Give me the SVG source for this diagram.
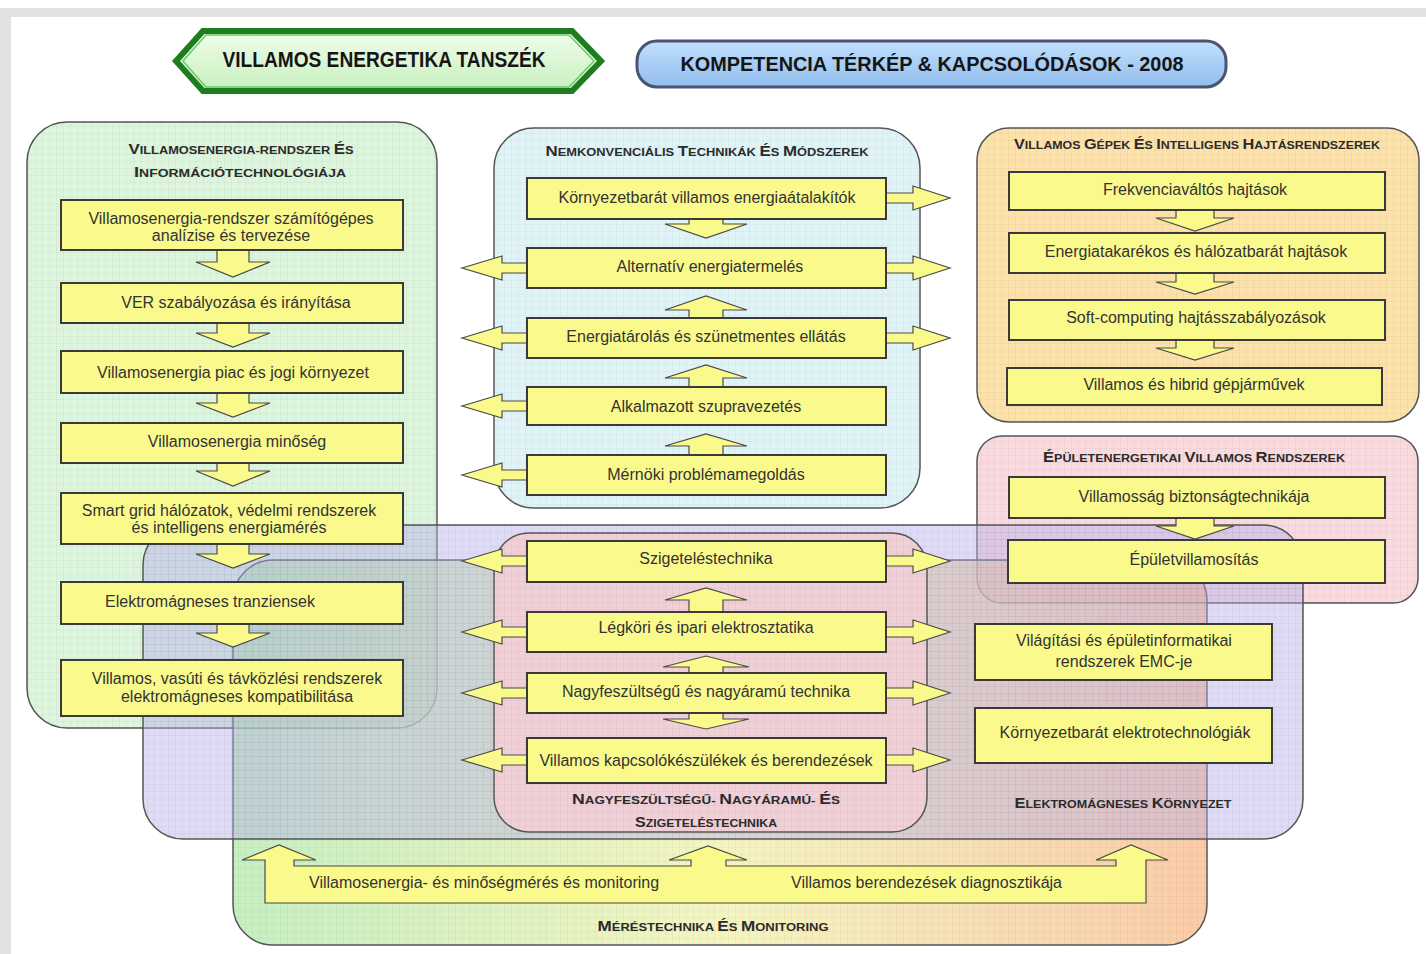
<svg xmlns="http://www.w3.org/2000/svg" width="1426" height="954" viewBox="0 0 1426 954">
<defs>
<style>
.box{fill:#fafa8c;stroke:#3a3a3a;stroke-width:2}
.arr{fill:#fafa8c;stroke:#4a4a4a;stroke-width:1.2;stroke-linejoin:miter}
.t{font-family:"Liberation Sans",Arial,sans-serif;font-size:16px;fill:#333;text-anchor:middle}
.ts{font-family:"Liberation Sans",Arial,sans-serif;font-size:16px;fill:#333;text-anchor:start}
.ttl{font-family:"Liberation Sans",Arial,sans-serif;font-weight:bold;font-size:11px;fill:#2b2b2b;text-anchor:middle}
.ttl .b{font-size:14.5px}
.panel{stroke:#555;stroke-width:1.5}
.grid{fill:url(#grid);stroke:none}
.hdr{font-family:"Liberation Sans",Arial,sans-serif;font-weight:bold;fill:#151515;text-anchor:middle}
</style>
<pattern id="grid" width="7" height="7" patternUnits="userSpaceOnUse">
<path d="M7 0H0V7" fill="none" stroke="#000" stroke-opacity="0.06" stroke-width="1"/>
</pattern>
<linearGradient id="mg" x1="0" y1="0" x2="1" y2="0">
<stop offset="0" stop-color="#a8e6a0"/>
<stop offset="0.5" stop-color="#eef0a0"/>
<stop offset="1" stop-color="#f8b078"/>
</linearGradient>
<linearGradient id="hg" x1="0" y1="0" x2="0" y2="1">
<stop offset="0" stop-color="#f0fdea"/>
<stop offset="1" stop-color="#c8f0c0"/>
</linearGradient>
<linearGradient id="bg" x1="0" y1="0" x2="0" y2="1">
<stop offset="0" stop-color="#c0e0ff"/>
<stop offset="1" stop-color="#92bdec"/>
</linearGradient>
</defs>

<rect x="0" y="0" width="1426" height="954" fill="#ffffff"/>
<rect x="0" y="8" width="1426" height="9" fill="#e2e2e2"/>
<rect x="0" y="8" width="11" height="946" fill="#e2e2e2"/>

<g id="header-tanszek">
<polygon points="176,61 203,31 572,31 601,61 572,91 203,91" fill="url(#hg)" stroke="#1e7d1e" stroke-width="6" stroke-linejoin="miter"/>
<polygon points="183,61 206,35 569,35 594,61 569,87 206,87" fill="none" stroke="#6cc86c" stroke-width="1.5"/>
<text class="hdr" x="384" y="67" font-size="22" textLength="323" lengthAdjust="spacingAndGlyphs">VILLAMOS ENERGETIKA TANSZÉK</text>
</g>

<g id="header-kompetencia">
<rect x="637" y="41" width="589" height="46" rx="20" fill="url(#bg)" stroke="#4a5470" stroke-width="3"/>
<text class="hdr" x="932" y="71" font-size="21" textLength="503" lengthAdjust="spacingAndGlyphs">KOMPETENCIA TÉRKÉP &amp; KAPCSOLÓDÁSOK - 2008</text>
</g>

<!-- Panels -->
<g id="panel-ver">
<rect class="panel" x="27" y="122" width="410" height="606" rx="40" fill="#dcf5dc"/>
<rect class="grid" x="27" y="122" width="410" height="606" rx="40"/>
<text class="ttl" x="241" y="154" textLength="225" lengthAdjust="spacingAndGlyphs"><tspan class="b">V</tspan>ILLAMOSENERGIA-RENDSZER <tspan class="b">É</tspan>S</text>
<text class="ttl" x="240" y="177" textLength="212" lengthAdjust="spacingAndGlyphs"><tspan class="b">I</tspan>NFORMÁCIÓTECHNOLÓGIÁJA</text>
</g>

<g id="panel-nemkonv">
<rect class="panel" x="494" y="128" width="426" height="380" rx="40" fill="#e0f4f8"/>
<rect class="grid" x="494" y="128" width="426" height="380" rx="40"/>
<text class="ttl" x="707" y="156" textLength="323" lengthAdjust="spacingAndGlyphs"><tspan class="b">N</tspan>EMKONVENCIÁLIS <tspan class="b">T</tspan>ECHNIKÁK <tspan class="b">É</tspan>S <tspan class="b">M</tspan>ÓDSZEREK</text>
</g>

<g id="panel-gepek">
<rect class="panel" x="977" y="128" width="442" height="294" rx="32" fill="#fce2aa"/>
<rect class="grid" x="977" y="128" width="442" height="294" rx="32"/>
<text class="ttl" x="1197" y="149" textLength="366" lengthAdjust="spacingAndGlyphs"><tspan class="b">V</tspan>ILLAMOS <tspan class="b">G</tspan>ÉPEK <tspan class="b">É</tspan>S <tspan class="b">I</tspan>NTELLIGENS <tspan class="b">H</tspan>AJTÁSRENDSZEREK</text>
</g>

<g id="panel-epulet">
<rect class="panel" x="977" y="436" width="441" height="167" rx="25" fill="#f9dade"/>
<rect class="grid" x="977" y="436" width="441" height="167" rx="25"/>
<text class="ttl" x="1194" y="462" textLength="302" lengthAdjust="spacingAndGlyphs"><tspan class="b">É</tspan>PÜLETENERGETIKAI <tspan class="b">V</tspan>ILLAMOS <tspan class="b">R</tspan>ENDSZEREK</text>
</g>

<g id="panel-meres">
<rect class="panel" x="233" y="560" width="974" height="385" rx="40" fill="url(#mg)" fill-opacity="0.65"/>
<rect class="grid" x="233" y="560" width="974" height="385" rx="40"/>
<text class="ttl" x="713" y="931" textLength="231" lengthAdjust="spacingAndGlyphs"><tspan class="b">M</tspan>ÉRÉSTECHNIKA <tspan class="b">É</tspan>S <tspan class="b">M</tspan>ONITORING</text>
</g>

<g id="panel-emk">
<rect class="panel" x="143" y="525" width="1160" height="314" rx="40" fill="#b8b0ec" fill-opacity="0.45"/>
<rect class="grid" x="143" y="525" width="1160" height="314" rx="40"/>
<text class="ttl" x="1123" y="808" textLength="217" lengthAdjust="spacingAndGlyphs"><tspan class="b">E</tspan>LEKTROMÁGNESES <tspan class="b">K</tspan>ÖRNYEZET</text>
</g>

<g id="panel-nagyfesz">
<rect class="panel" x="494" y="533" width="433" height="299" rx="35" fill="#f0d0d6"/>
<rect class="grid" x="494" y="533" width="433" height="299" rx="35"/>
<text class="ttl" x="706" y="804" textLength="268" lengthAdjust="spacingAndGlyphs"><tspan class="b">N</tspan>AGYFESZÜLTSÉGŰ- <tspan class="b">N</tspan>AGYÁRAMÚ- <tspan class="b">É</tspan>S</text>
<text class="ttl" x="706" y="827" textLength="142" lengthAdjust="spacingAndGlyphs"><tspan class="b">S</tspan>ZIGETELÉSTECHNIKA</text>
</g>

<!-- Connectors -->
<g id="connectors">
<polygon class="arr" points="217,250 249,250 249,262 270,262 233,277 196,262 217,262"/>
<polygon class="arr" points="217,323 249,323 249,333 270,333 233,347 196,333 217,333"/>
<polygon class="arr" points="217,393 249,393 249,403 270,403 233,417 196,403 217,403"/>
<polygon class="arr" points="217,463 249,463 249,471 270,471 233,486 196,471 217,471"/>
<polygon class="arr" points="217,544 249,544 249,554 270,554 233,568 196,554 217,554"/>
<polygon class="arr" points="217,624 249,624 249,633 270,633 233,647 196,633 217,633"/>
<polygon class="arr" points="689,219 723,219 723,224 747,224 706,238 665,224 689,224"/>
<polygon class="arr" points="689,318 723,318 723,310 747,310 706,296 665,310 689,310"/>
<polygon class="arr" points="689,387 723,387 723,378 747,378 706,365 665,378 689,378"/>
<polygon class="arr" points="689,455 723,455 723,446 747,446 706,434 665,446 689,446"/>
<polygon class="arr" points="886,193 913,193 913,186 950,198 913,210 913,203 886,203"/>
<polygon class="arr" points="462,268 502,256 502,263 527,263 527,273 502,273 502,280"/>
<polygon class="arr" points="886,263 913,263 913,256 950,268 913,280 913,273 886,273"/>
<polygon class="arr" points="462,338 502,326 502,333 527,333 527,343 502,343 502,350"/>
<polygon class="arr" points="886,333 913,333 913,326 950,338 913,350 913,343 886,343"/>
<polygon class="arr" points="462,406 502,394 502,401 527,401 527,411 502,411 502,418"/>
<polygon class="arr" points="462,475 502,463 502,470 527,470 527,480 502,480 502,487"/>
<polygon class="arr" points="689,612 723,612 723,600 747,600 706,588 665,600 689,600"/>
<polygon class="arr" points="689,673 723,673 723,667 749,667 706,656 663,667 689,667"/>
<polygon class="arr" points="689,713 723,713 723,719 749,719 706,729 663,719 689,719"/>
<polygon class="arr" points="462,561 502,549 502,556 527,556 527,566 502,566 502,573"/>
<polygon class="arr" points="886,556 913,556 913,549 950,561 913,573 913,566 886,566"/>
<polygon class="arr" points="462,632 502,620 502,627 527,627 527,637 502,637 502,644"/>
<polygon class="arr" points="886,627 913,627 913,620 950,632 913,644 913,637 886,637"/>
<polygon class="arr" points="462,693 502,681 502,688 527,688 527,698 502,698 502,705"/>
<polygon class="arr" points="886,688 913,688 913,681 950,693 913,705 913,698 886,698"/>
<polygon class="arr" points="462,760 502,748 502,755 527,755 527,765 502,765 502,772"/>
<polygon class="arr" points="886,755 913,755 913,748 950,760 913,772 913,765 886,765"/>
<polygon class="arr" points="1176,210 1214,210 1214,218 1234,218 1195,231 1156,218 1176,218"/>
<polygon class="arr" points="1176,273 1214,273 1214,282 1234,282 1195,294 1156,282 1176,282"/>
<polygon class="arr" points="1176,340 1214,340 1214,348 1234,348 1195,360 1156,348 1176,348"/>
<polygon class="arr" points="1176,518 1214,518 1214,526 1234,526 1195,539 1156,526 1176,526"/>
<polygon class="arr" points="265,903 265,860 242,860 279,845 316,860 294,860 294,866 691,866 691,860 669,860 708,846 747,860 726,860 726,866 1116,866 1116,860 1096,860 1131,845 1168,860 1146,860 1146,903"/>
</g>

<!-- Nodes: left column -->
<g id="n-ver1"><rect class="box" x="61" y="200" width="342" height="50"/><text class="t" x="231" y="224">Villamosenergia-rendszer számítógépes</text><text class="t" x="231" y="241">analízise és tervezése</text></g>
<g id="n-ver2"><rect class="box" x="61" y="283" width="342" height="40"/><text class="t" x="236" y="308">VER szabályozása és irányítása</text></g>
<g id="n-ver3"><rect class="box" x="61" y="351" width="342" height="42"/><text class="t" x="233" y="378">Villamosenergia piac és jogi környezet</text></g>
<g id="n-ver4"><rect class="box" x="61" y="423" width="342" height="40"/><text class="t" x="237" y="447">Villamosenergia minőség</text></g>
<g id="n-ver5"><rect class="box" x="61" y="493" width="342" height="51"/><text class="t" x="229" y="516">Smart grid hálózatok, védelmi rendszerek</text><text class="t" x="229" y="533">és intelligens energiamérés</text></g>
<g id="n-ver6"><rect class="box" x="61" y="582" width="342" height="42"/><text class="t" x="210" y="607">Elektromágneses tranziensek</text></g>
<g id="n-ver7"><rect class="box" x="61" y="660" width="342" height="56"/><text class="t" x="237" y="684">Villamos, vasúti és távközlési rendszerek</text><text class="t" x="237" y="702">elektromágneses kompatibilitása</text></g>

<!-- Nodes: middle top -->
<g id="n-nk1"><rect class="box" x="527" y="178" width="359" height="41"/><text class="t" x="707" y="203">Környezetbarát villamos energiaátalakítók</text></g>
<g id="n-nk2"><rect class="box" x="527" y="248" width="359" height="40"/><text class="t" x="710" y="272">Alternatív energiatermelés</text></g>
<g id="n-nk3"><rect class="box" x="527" y="318" width="359" height="40"/><text class="t" x="706" y="342">Energiatárolás és szünetmentes ellátás</text></g>
<g id="n-nk4"><rect class="box" x="527" y="387" width="359" height="38"/><text class="t" x="706" y="412">Alkalmazott szupravezetés</text></g>
<g id="n-nk5"><rect class="box" x="527" y="455" width="359" height="40"/><text class="t" x="706" y="480">Mérnöki problémamegoldás</text></g>

<!-- Nodes: middle lower -->
<g id="n-nf1"><rect class="box" x="527" y="541" width="359" height="41"/><text class="t" x="706" y="564">Szigeteléstechnika</text></g>
<g id="n-nf2"><rect class="box" x="527" y="612" width="359" height="40"/><text class="t" x="706" y="633">Légköri és ipari elektrosztatika</text></g>
<g id="n-nf3"><rect class="box" x="527" y="673" width="359" height="40"/><text class="t" x="706" y="697">Nagyfeszültségű és nagyáramú technika</text></g>
<g id="n-nf4"><rect class="box" x="527" y="738" width="359" height="45"/><text class="t" x="706" y="766">Villamos kapcsolókészülékek és berendezések</text></g>

<!-- Nodes: right -->
<g id="n-gh1"><rect class="box" x="1009" y="172" width="376" height="38"/><text class="t" x="1195" y="195">Frekvenciaváltós hajtások</text></g>
<g id="n-gh2"><rect class="box" x="1009" y="233" width="376" height="40"/><text class="t" x="1196" y="257">Energiatakarékos és hálózatbarát hajtások</text></g>
<g id="n-gh3"><rect class="box" x="1009" y="300" width="376" height="40"/><text class="t" x="1196" y="323">Soft-computing hajtásszabályozások</text></g>
<g id="n-gh4"><rect class="box" x="1007" y="368" width="375" height="37"/><text class="t" x="1194" y="390">Villamos és hibrid gépjárművek</text></g>
<g id="n-ep1"><rect class="box" x="1009" y="477" width="376" height="41"/><text class="t" x="1194" y="502">Villamosság biztonságtechnikája</text></g>
<g id="n-ep2"><rect class="box" x="1008" y="540" width="377" height="43"/><text class="t" x="1194" y="565">Épületvillamosítás</text></g>
<g id="n-emc1"><rect class="box" x="975" y="624" width="297" height="56"/><text class="t" x="1124" y="646">Világítási és épületinformatikai</text><text class="t" x="1124" y="667">rendszerek EMC-je</text></g>
<g id="n-emc2"><rect class="box" x="975" y="708" width="297" height="55"/><text class="t" x="1125" y="738">Környezetbarát elektrotechnológiák</text></g>

<!-- Nodes: measurement -->
<g id="n-meres1"><text class="ts" x="309" y="888">Villamosenergia- és minőségmérés és monitoring</text></g>
<g id="n-meres2"><text class="ts" x="791" y="888">Villamos berendezések diagnosztikája</text></g>
</svg>
